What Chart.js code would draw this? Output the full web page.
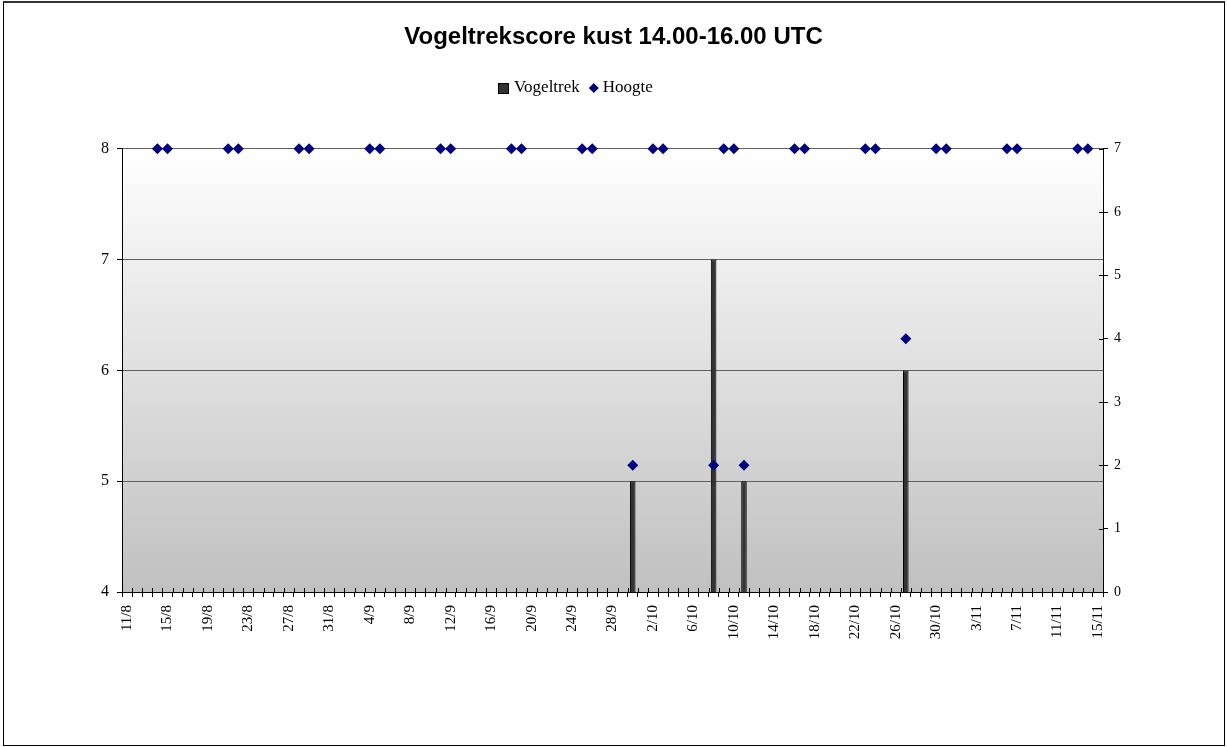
<!DOCTYPE html>
<html>
<head>
<meta charset="utf-8">
<script src="https://cdn.jsdelivr.net/npm/chart.js@4"></script>
<style>
  html, body { margin: 0; padding: 0; background: #fff; }
  #frame { position: absolute; left: 3px; top: 1px; width: 1220px; height: 742px; border: 1px solid #000; border-top: 2px solid #333; }
  canvas { position: absolute; left: 0; top: 0; }
</style>
</head>
<body>
<div id="frame"></div>
<canvas id="chart" width="1227" height="747"></canvas>
<script>
// one category per day, 11/8 .. 15/11
var days = [
  "11/8","12/8","13/8","14/8","15/8","16/8","17/8","18/8","19/8","20/8","21/8","22/8","23/8","24/8","25/8","26/8","27/8","28/8","29/8","30/8","31/8",
  "1/9","2/9","3/9","4/9","5/9","6/9","7/9","8/9","9/9","10/9","11/9","12/9","13/9","14/9","15/9","16/9","17/9","18/9","19/9","20/9",
  "21/9","22/9","23/9","24/9","25/9","26/9","27/9","28/9","29/9","30/9",
  "1/10","2/10","3/10","4/10","5/10","6/10","7/10","8/10","9/10","10/10","11/10","12/10","13/10","14/10","15/10","16/10","17/10","18/10","19/10","20/10",
  "21/10","22/10","23/10","24/10","25/10","26/10","27/10","28/10","29/10","30/10","31/10",
  "1/11","2/11","3/11","4/11","5/11","6/11","7/11","8/11","9/11","10/11","11/11","12/11","13/11","14/11","15/11"
];
var labelStep = 4; // only every 4th date is written under the axis

// Vogeltrek (left axis)
var vogeltrekDays = ["30/9", "8/10", "11/10", "27/10"];
var vogeltrekScores = [5, 7, 5, 6];

// Hoogte (right axis)
var hoogteDays = [
  "14/8","15/8","21/8","22/8","28/8","29/8","4/9","5/9","11/9","12/9","18/9","19/9","25/9","26/9",
  "30/9","2/10","3/10","8/10","9/10","10/10","11/10","16/10","17/10","23/10","24/10","27/10",
  "30/10","31/10","6/11","7/11","13/11","14/11"
];
var hoogteValues = [
  7,7,7,7,7,7,7,7,7,7,7,7,7,7,
  2,7,7,2,7,7,2,7,7,7,7,4,
  7,7,7,7,7,7
];

var leftTicks = [4, 5, 6, 7, 8];
var rightTicks = [0, 1, 2, 3, 4, 5, 6, 7];

function fillSeries(keys, vals) {
  var out = days.map(function () { return null; });
  keys.forEach(function (k, i) {
    out[days.indexOf(k)] = vals[i];
  });
  return out;
}

var serif = "'Liberation Serif', 'Times New Roman', serif";

// grey gradient behind the plot
var plotBackground = {
  id: "plotBackground",
  beforeDraw: function (chart) {
    var a = chart.chartArea;
    var ctx = chart.ctx;
    var g = ctx.createLinearGradient(0, a.top, 0, a.bottom);
    g.addColorStop(0, "#ffffff");
    g.addColorStop(1, "#c0c0c0");
    ctx.save();
    ctx.fillStyle = g;
    ctx.fillRect(a.left, a.top, a.right - a.left, a.bottom - a.top);
    ctx.restore();
  }
};

// tick marks that also reach into the plot (x axis and right axis)
var crossTicks = {
  id: "crossTicks",
  beforeDatasetsDraw: function (chart) {
    var ctx = chart.ctx;
    var xs = chart.scales.x;
    var yr = chart.scales.y1;
    var n = days.length;
    ctx.save();
    ctx.strokeStyle = "#000";
    ctx.lineWidth = 1;
    ctx.beginPath();
    for (var i = 0; i <= n; i++) {
      var px = Math.round(xs.left + i * xs.width / n) + 0.5;
      ctx.moveTo(px, xs.top - 4);
      ctx.lineTo(px, xs.top);
    }
    rightTicks.forEach(function (v) {
      var py = Math.round(yr.getPixelForValue(v)) + 0.5;
      ctx.moveTo(yr.left - 4, py);
      ctx.lineTo(yr.left, py);
    });
    ctx.stroke();
    ctx.restore();
  }
};

// excel-like legend line
var legendLine = {
  id: "legendLine",
  afterDraw: function (chart) {
    var ctx = chart.ctx;
    var y = 88;
    var x = 498;
    ctx.save();
    ctx.font = "17px " + serif;
    ctx.textBaseline = "middle";
    ctx.fillStyle = "#333333";
    ctx.strokeStyle = "#000";
    ctx.lineWidth = 1;
    ctx.fillRect(x, y - 5, 11, 11);
    ctx.strokeRect(x + 0.5, y - 4.5, 10, 10);
    ctx.fillStyle = "#000";
    ctx.fillText(chart.data.datasets[0].label, x + 16, y);
    x = x + 16 + ctx.measureText(chart.data.datasets[0].label).width + 14;
    ctx.fillStyle = "#000080";
    ctx.beginPath();
    ctx.moveTo(x, y - 5);
    ctx.lineTo(x + 5, y);
    ctx.lineTo(x, y + 5);
    ctx.lineTo(x - 5, y);
    ctx.closePath();
    ctx.fill();
    ctx.fillStyle = "#000";
    ctx.fillText(chart.data.datasets[1].label, x + 9, y);
    ctx.restore();
  }
};

var ctx = document.getElementById("chart").getContext("2d");
var chart = new Chart(ctx, {
  type: "bar",
  data: {
    labels: days,
    datasets: [
      {
        label: "Vogeltrek",
        data: fillSeries(vogeltrekDays, vogeltrekScores),
        backgroundColor: "#333333",
        borderColor: "#000000",
        borderWidth: 1,
        barPercentage: 0.55,
        categoryPercentage: 1,
        yAxisID: "y",
        order: 2
      },
      {
        type: "line",
        label: "Hoogte",
        data: fillSeries(hoogteDays, hoogteValues),
        showLine: false,
        clip: false,
        pointStyle: "rectRot",
        pointRadius: 5.5,
        pointBackgroundColor: "#000080",
        pointBorderColor: "#000080",
        pointBorderWidth: 0,
        yAxisID: "y1",
        order: 1
      }
    ]
  },
  options: {
    responsive: false,
    animation: false,
    layout: { padding: 0 },
    plugins: {
      legend: { display: false },
      tooltip: { enabled: false },
      title: {
        display: true,
        text: "Vogeltrekscore kust 14.00-16.00 UTC",
        color: "#000",
        font: { family: "'Liberation Sans', Arial, sans-serif", size: 24, weight: "bold" },
        padding: { top: 23, bottom: 97 }
      }
    },
    scales: {
      x: {
        offset: true,
        grid: { offset: true, drawOnChartArea: false, color: "#000", tickLength: 5 },
        border: { color: "#000" },
        ticks: {
          autoSkip: false,
          minRotation: 90,
          maxRotation: 90,
          padding: 8,
          color: "#000",
          font: { family: serif, size: 15 },
          callback: function (v, i) { return i % labelStep === 0 ? days[i] : ""; }
        },
        afterFit: function (s) { s.height = 155; }
      },
      y: {
        position: "left",
        min: leftTicks[0],
        max: leftTicks[leftTicks.length - 1],
        afterBuildTicks: function (s) { s.ticks = leftTicks.map(function (v) { return { value: v }; }); },
        ticks: { color: "#000", padding: 8, font: { family: serif, size: 16 } },
        grid: { color: "#606060", tickColor: "#000", tickLength: 5 },
        border: { color: "#000" },
        afterFit: function (s) { s.width = 122; }
      },
      y1: {
        position: "right",
        min: rightTicks[0],
        max: rightTicks[rightTicks.length - 1],
        afterBuildTicks: function (s) { s.ticks = rightTicks.map(function (v) { return { value: v }; }); },
        ticks: { color: "#000", padding: 6, font: { family: serif, size: 14 } },
        grid: { drawOnChartArea: false, color: "#000", tickLength: 5 },
        border: { color: "#000" },
        afterFit: function (s) { s.width = 124; }
      }
    }
  },
  plugins: [plotBackground, crossTicks, legendLine]
});
</script>
</body>
</html>
